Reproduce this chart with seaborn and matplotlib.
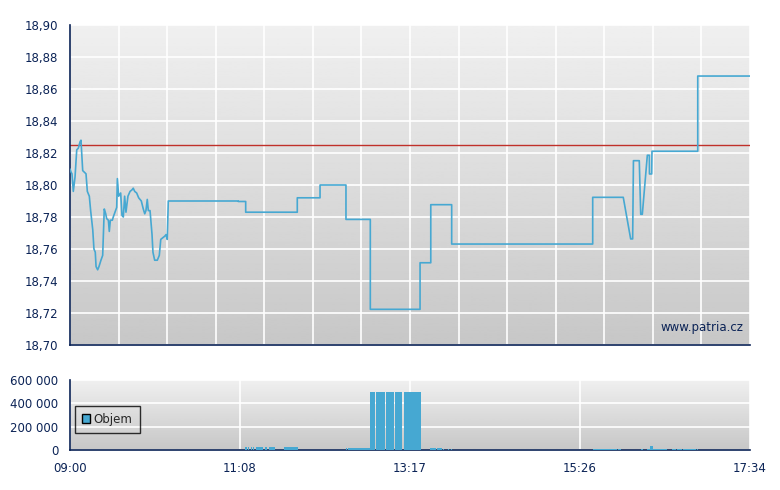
import numpy as np
import pandas as pd
import matplotlib
matplotlib.use("Agg")
import matplotlib.pyplot as plt
from matplotlib.ticker import FuncFormatter, MultipleLocator
from matplotlib.patches import Patch
import seaborn as sns

# =======================================================================================
# ========= Data ========================================================================
# =======================================================================================

# minutes after 09:00 and trade price
price_minutes = [0.0, 0.8, 1.5, 2.5, 3.8, 5.1, 6.3, 7.6, 8.3, 9.6, 12.1, 13.1, 14.6, 15.6, 17.2,
                 18.1, 19.1, 19.7, 20.9, 21.9, 23.4, 24.7, 25.9, 27.0, 27.7, 29.0, 29.7,
                 30.5, 32.0, 32.7, 34.0, 35.3, 35.8, 36.8, 38.3, 39.3, 40.3, 41.3, 42.3,
                 43.8, 45.4, 46.9, 47.8, 48.9, 50.4, 51.9, 53.9, 55.4, 56.5, 57.4, 58.4,
                 59.2, 60.5, 62.0, 62.7, 64.0, 66.0, 67.5, 68.6, 70.1, 71.6, 72.6, 73.5,
                 74.3, 127.2, 127.2, 132.8, 132.8, 171.8, 171.8, 189.0, 189.0, 208.6,
                 208.6, 227.0, 227.0, 264.6, 264.6, 272.7, 272.7, 288.5, 288.5, 395.1,
                 395.1, 418.2, 423.8, 425.3, 425.9, 430.3, 431.4, 432.6, 436.4, 437.9,
                 438.0, 439.7, 439.9, 474.5, 474.5, 514.0]
price_values = [18.810, 18.808, 18.807, 18.796, 18.805, 18.822, 18.823, 18.827, 18.828, 18.809,
                18.807, 18.796, 18.793, 18.784, 18.772, 18.760, 18.758, 18.749, 18.747,
                18.749, 18.753, 18.756, 18.785, 18.782, 18.779, 18.778, 18.771, 18.778,
                18.778, 18.780, 18.783, 18.786, 18.804, 18.793, 18.795, 18.781, 18.780,
                18.793, 18.783, 18.793, 18.796, 18.797, 18.798, 18.796, 18.795, 18.792,
                18.790, 18.785, 18.782, 18.784, 18.791, 18.784, 18.784, 18.769, 18.758,
                18.753, 18.753, 18.756, 18.766, 18.767, 18.768, 18.769, 18.766, 18.790,
                18.790, 18.7897, 18.7897, 18.783, 18.783, 18.792, 18.792, 18.800, 18.800,
                18.7785, 18.7785, 18.7223, 18.7223, 18.7514, 18.7514, 18.7877, 18.7877,
                18.7631, 18.7631, 18.7923, 18.7923, 18.7663, 18.7663, 18.8152, 18.8152,
                18.7817, 18.7817, 18.8186, 18.8186, 18.8069, 18.8069, 18.8211, 18.8211,
                18.8681, 18.8681]
previous_close = 18.825

# volume bars: start / end (minutes after 09:00) and traded volume
vol_start = [132.5, 134.5, 136.6, 138.6, 140.6, 147.2, 150.2, 153.7, 161.8, 167.3, 208.6,
             210.4, 226.8, 231.2, 238.5, 245.3, 251.4, 252.4, 272.1, 277.2, 282.2, 285.5,
             287.8, 395.1, 414.4, 417.8, 431.6, 435.9, 438.4, 440.7, 454.8, 458.6, 463.1,
             473.7]
vol_end = [133.6, 135.5, 137.6, 139.3, 146.1, 148.7, 153.2, 154.7, 166.8, 172.1, 209.6,
           226.8, 230.8, 238.1, 244.9, 251.0, 252.0, 265.1, 276.6, 281.2, 282.9, 286.2,
           288.5, 413.2, 416.2, 418.2, 432.9, 438.4, 440.7, 451.0, 458.1, 462.6, 473.2,
           474.5]
vol_values = [25000, 25000, 25000, 22000, 25000, 25000, 25000, 25000, 25000, 25000, 15000,
              20000, 500000, 500000, 500000, 500000, 500000, 500000, 17000, 17000, 12000,
              10000, 10000, 8000, 10000, 6000, 8000, 9000, 34000, 11000, 9000, 10000,
              10000, 6000]

session_end = 514
time_labels = ["09:00", "11:08", "13:17", "15:26", "17:34"]

# =======================================================================================
# ========= Functions ===================================================================
# =======================================================================================

NAVY = "#0b2356"
BLUE = "#46a8d2"


def gradient(axe):
    grad = np.linspace(0.94, 0.78, 256).reshape(-1, 1)
    axe.imshow(grad, extent=[0, 1, 0, 1], transform=axe.transAxes, aspect="auto",
               cmap="gray", vmin=0, vmax=1, zorder=-1)


def style(axe):
    for side in ["top", "right"]:
        axe.spines[side].set_visible(False)
    for side in ["left", "bottom"]:
        axe.spines[side].set_color(NAVY)
        axe.spines[side].set_linewidth(1.2)
    axe.tick_params(colors=NAVY, labelcolor=NAVY, length=5, width=1.2, labelsize=8.5)
    axe.set_axisbelow(True)
    axe.grid(True, color="white", linewidth=1.2)
    axe.set_xlabel("")
    axe.set_ylabel("")


def thousands(v, pos):
    return "{:,.0f}".format(v).replace(",", " ")


# =======================================================================================
# ========= Main ========================================================================
# =======================================================================================

sns.set_style("white")
plt.rcParams["font.family"] = ["DejaVu Sans"]

price = pd.DataFrame({"minute": price_minutes, "price": price_values})

figure = plt.figure(figsize=(7.8, 4.9), dpi=100)
top = figure.add_axes([70 / 780, 145 / 490, 680 / 780, 320 / 490])
bottom = figure.add_axes([70 / 780, 40 / 490, 680 / 780, 70 / 490])

# price chart
gradient(top)
sns.lineplot(data=price, x="minute", y="price", ax=top, color=BLUE, linewidth=1.2,
             estimator=None, sort=False, zorder=3)
top.axhline(previous_close, color="#c0302a", linewidth=1, zorder=2)
top.set_xlim(0, session_end)
top.set_ylim(18.70, 18.90)
top.xaxis.set_major_locator(MultipleLocator(session_end / 14))
top.yaxis.set_major_locator(MultipleLocator(0.02))
top.yaxis.set_major_formatter(FuncFormatter(lambda v, p: "{:.2f}".format(v).replace(".", ",")))
top.set_xticklabels([])
style(top)
top.text(0.99, 0.055, "www.patria.cz", transform=top.transAxes, ha="right", va="center",
         color=NAVY, fontsize=8.5)

# volume chart
gradient(bottom)
widths = [e - s for s, e in zip(vol_start, vol_end)]
bottom.bar(vol_start, vol_values, width=widths, align="edge", color=BLUE, linewidth=0, zorder=3)
bottom.set_xlim(0, session_end)
bottom.set_ylim(0, 600000)
bottom.set_xticks(np.linspace(0, session_end, len(time_labels)))
bottom.set_xticklabels(time_labels)
bottom.set_yticks([0, 200000, 400000, 600000])
bottom.yaxis.set_major_formatter(FuncFormatter(thousands))
style(bottom)
legend = bottom.legend(handles=[Patch(facecolor=BLUE, edgecolor="black", label="Objem")],
                       loc="center left", bbox_to_anchor=(0.007, 0.44), fontsize=8.5,
                       frameon=True, fancybox=False, handlelength=0.7, handleheight=0.7,
                       handletextpad=0.3, borderpad=0.6, borderaxespad=0)
legend.get_frame().set_edgecolor("black")
legend.get_frame().set_facecolor("none")

figure.savefig("out.png", dpi=100)
